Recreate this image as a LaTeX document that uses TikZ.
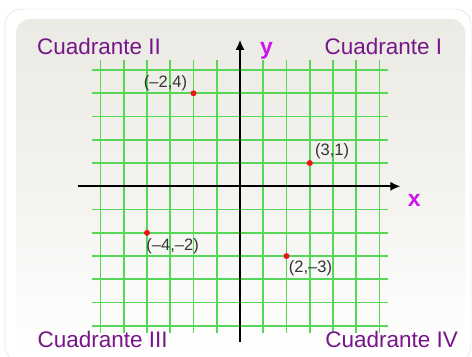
\documentclass[tikz,border=0pt]{standalone}
\usepackage{fontspec}
\setmainfont{Liberation Sans}
\usepackage{xcolor}
\usepackage{tikz}
\usetikzlibrary{arrows.meta,positioning}

\definecolor{quadpurple}{RGB}{118,22,136}
\definecolor{axmagenta}{RGB}{204,20,238}
\definecolor{gridgreen}{RGB}{88,214,88}
\definecolor{dotred}{RGB}{238,20,20}
\definecolor{panelgray}{RGB}{235,234,228}
\definecolor{framegray}{RGB}{215,215,215}

\begin{document}
\begin{tikzpicture}[x=23.25pt, y=23.25pt, quad/.style={text=quadpurple,font=\fontsize{22.5}{24}\selectfont,inner sep=0,anchor=base}, axlabel/.style={text=axmagenta,font=\fontsize{23}{24}\selectfont\bfseries,inner sep=0,anchor=base}, dot/.style={circle,fill=dotred,inner sep=0,minimum size=6pt}, coordlab/.style={font=\fontsize{16.5}{17}\selectfont,text=black!80,inner sep=0}, gridline/.style={gridgreen,line width=1.7pt}, axis/.style={-{Latex[length=10pt,width=9pt]},line width=1.8pt}]
\useasboundingbox (-10.323,-7.299) rectangle (9.978,8.013);
% frame and panel
\draw[framegray,fill=white,rounded corners=16pt] (-10.11,-7.56) rectangle (9.935,7.625);
\shade[rounded corners=14pt,top color=panelgray,bottom color=white,middle color=panelgray!60] (-9.634,-7.30) rectangle (9.677,7.196);
% grid
\foreach \i in {-6,...,6}{\draw[gridline] (\i,-6.3)--(\i,5.43);}
\foreach \j in {-6,...,5}{\draw[gridline] (-6.37,\j)--(6.37,\j);}
% axes
\coordinate (xl) at (-6.95,0);
\coordinate (xr) at (6.9,0);
\coordinate (yb) at (0,-6.7);
\coordinate (yt) at (0,6.3);
\draw[axis] (xl)--(xr);
\draw[axis] (yb)--(yt);
\node[axlabel] (ylab) at (1.14,5.65) {y};
\node[axlabel] (xlab) at (7.49,-0.88) {x};
% quadrants
\node[quad] (q2) at (-6.06,5.65) {Cuadrante II};
\node[quad] (q1) at (6.17,5.65) {Cuadrante I};
\node[quad] (q3) at (-5.91,-6.94) {Cuadrante III};
\node[quad] (q4) at (6.52,-6.94) {Cuadrante IV};
% points
\node[dot] (pa) at (-2,4) {};
\node[dot] (pb) at (3,1) {};
\node[dot] (pc) at (-4,-2) {};
\node[dot] (pd) at (2,-3) {};
\node[coordlab,above left=0pt and 4pt of pa] (la) {(–2,4)};
\node[coordlab,above right=2pt and 3pt of pb] (lb) {(3,1)};
\node[coordlab,below right=3pt and -3pt of pc] (lc) {(–4,–2)};
\node[coordlab,below right=2pt and 0pt of pd] (ld) {(2,–3)};
\end{tikzpicture}
\end{document}
